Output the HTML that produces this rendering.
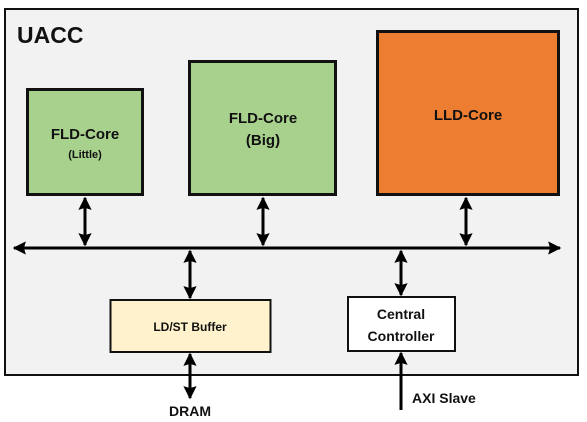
<!DOCTYPE html>
<html><head><meta charset="utf-8"><style>
html,body{margin:0;padding:0;background:#fff;}
svg{display:block;}
text{font-family:"Liberation Sans",sans-serif;font-weight:bold;fill:#111;}
</style></head><body>
<svg width="587" height="422" viewBox="0 0 587 422" xmlns="http://www.w3.org/2000/svg">
<defs>
<marker id="a" viewBox="0 0 10 10" refX="9" refY="5" markerWidth="4.6" markerHeight="4.4" orient="auto-start-reverse" markerUnits="strokeWidth">
<path d="M0,0 L10,5 L0,10 L1.5,5 z" fill="#000"/>
</marker>
</defs>
<rect x="5" y="9" width="573" height="366" fill="#f2f2f2" stroke="#111" stroke-width="2"/>
<text x="17" y="43" font-size="23">UACC</text>
<rect x="27.5" y="89.5" width="115" height="105" fill="#a9d18e" stroke="#111" stroke-width="3"/>
<text x="85" y="139" font-size="15" text-anchor="middle">FLD-Core</text>
<text x="85" y="158" font-size="11" text-anchor="middle">(Little)</text>
<rect x="189.5" y="61.5" width="146" height="133" fill="#a9d18e" stroke="#111" stroke-width="3"/>
<text x="263" y="123" font-size="15" text-anchor="middle">FLD-Core</text>
<text x="263" y="145" font-size="15" text-anchor="middle">(Big)</text>
<rect x="377.5" y="31.5" width="181" height="163" fill="#ed7d31" stroke="#111" stroke-width="3"/>
<text x="468" y="120" font-size="15" text-anchor="middle">LLD-Core</text>
<g stroke="#000" stroke-width="3" fill="none">
<line x1="14" y1="248" x2="560" y2="248" marker-start="url(#a)" marker-end="url(#a)"/>
<line x1="85" y1="198" x2="85" y2="245" marker-start="url(#a)" marker-end="url(#a)"/>
<line x1="263" y1="198" x2="263" y2="245" marker-start="url(#a)" marker-end="url(#a)"/>
<line x1="466" y1="198" x2="466" y2="245" marker-start="url(#a)" marker-end="url(#a)"/>
<line x1="190" y1="251" x2="190" y2="298" marker-start="url(#a)" marker-end="url(#a)"/>
<line x1="401" y1="251" x2="401" y2="295" marker-start="url(#a)" marker-end="url(#a)"/>
<line x1="190" y1="354" x2="190" y2="398" marker-start="url(#a)" marker-end="url(#a)"/>
<line x1="401" y1="410" x2="401" y2="353" marker-end="url(#a)"/>
</g>
<rect x="110.5" y="300" width="160" height="52" fill="#fff2cc" stroke="#111" stroke-width="2"/>
<text x="190" y="331" font-size="12" text-anchor="middle">LD/ST Buffer</text>
<rect x="348" y="297" width="107" height="54" fill="#fff" stroke="#111" stroke-width="2"/>
<text x="401" y="319" font-size="14" text-anchor="middle">Central</text>
<text x="401" y="341" font-size="14" text-anchor="middle">Controller</text>
<text x="190" y="416" font-size="14" text-anchor="middle">DRAM</text>
<text x="412" y="403" font-size="14">AXI Slave</text>
</svg>
</body></html>
